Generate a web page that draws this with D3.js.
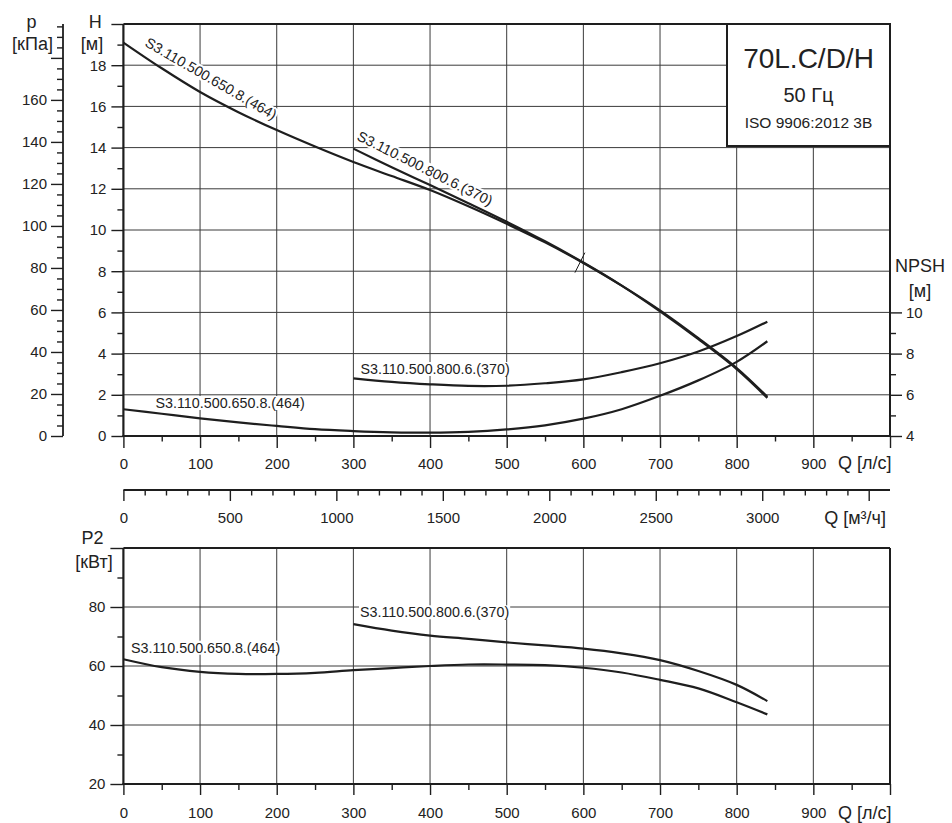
<!DOCTYPE html>
<html><head><meta charset="utf-8">
<script src="https://cdn.jsdelivr.net/npm/d3@7"></script>
<style>
body{margin:0;background:#fff}
svg{display:block}
text{font-family:"Liberation Sans",Arial,Helvetica,sans-serif;fill:#222}
</style>
</head><body>
<svg id="c" width="952" height="823"></svg>
<script>
// ---------- DATA ----------
// Head curves H [m] vs Q [l/s]
const qA = [0,50,100,150,200,250,300,350,400,450,500,550,600,650,700,750,800,840];          // S3.110.500.650.8.(464)
const headA = [19.1,17.85,16.7,15.72,14.85,14.05,13.3,12.62,11.94,11.15,10.3,9.4,8.4,7.3,6.1,4.75,3.3,1.9];
const npshA = [5.30,5.08,4.86,4.66,4.49,4.33,4.24,4.18,4.16,4.2,4.32,4.52,4.84,5.3,5.95,6.7,7.6,8.6];
const powerA = [62.3,59.6,58.0,57.3,57.3,57.7,58.6,59.3,60.0,60.5,60.5,60.3,59.4,57.8,55.3,52.4,47.7,43.6];

const qB = [300,350,400,450,500,550,600,650,700,750,800,840];                                 // S3.110.500.800.6.(370)
const headB = [13.95,13.05,12.18,11.3,10.4,9.45,8.42,7.3,6.05,4.7,3.25,1.85];
const npshB = [6.80,6.63,6.51,6.43,6.44,6.56,6.75,7.1,7.53,8.1,8.85,9.55];
const powerB = [74.2,72.0,70.3,69.2,68.0,67.0,65.9,64.3,62.0,58.3,53.6,48.1];

const nameA = "S3.110.500.650.8.(464)";
const nameB = "S3.110.500.800.6.(370)";

// duty mark on head curve (Q, H pairs)
const dutyMarkQ = [589, 602];
const dutyMarkH = [7.93, 8.9];

// tick values
const qMajor = [0,100,200,300,400,500,600,700,800,900,1000];
const qMinor = [50,150,250,350,450,550,650,750,850,950];
const hMajor = [0,2,4,6,8,10,12,14,16,18,20];
const hMinor = [1,3,5,7,9,11,13,15,17,19];
const kpaMajor = [0,20,40,60,80,100,120,140,160,180];
const kpaMinor = d3.range(5,200,5).filter(v => v % 20 !== 0);
const npshMajor = [4,6,8,10];
const npshMinor = [5,7,9];
const m3hMajor = [0,500,1000,1500,2000,2500,3000,3500];
const m3hMinor = d3.range(100,3600,100).filter(v => v % 500 !== 0);
const p2Major = [20,40,60,80,100];
const p2Minor = [30,50,70,90];

const titleLines = ["70L.C/D/H", "50 Гц", "ISO 9906:2012 3B"];

// ---------- DRAW ----------
const svg = d3.select("#c");
const INK = "#1e1e1e";
const GRID = "#3a3a3a";

const x = d3.scaleLinear().domain([0,1000]).range([123.4,890]);
const xM = d3.scaleLinear().domain([0,3600]).range([123.4,890]);
const yH = d3.scaleLinear().domain([0,20]).range([436,24]);
const yK = d3.scaleLinear().domain([0,20*9.80665]).range([436,24]);
const yN = d3.scaleLinear().domain([4,24]).range([436,24]);
const yP = d3.scaleLinear().domain([20,100]).range([784,548]);

// grid
const gGrid = svg.append("g").attr("stroke",GRID).attr("stroke-width",1);
qMajor.filter(v=>v>0&&v<1000).forEach(q=>{
  gGrid.append("line").attr("x1",x(q)).attr("x2",x(q)).attr("y1",yH(0)).attr("y2",yH(20));
  gGrid.append("line").attr("x1",x(q)).attr("x2",x(q)).attr("y1",yP(20)).attr("y2",yP(100));
});
hMajor.filter(v=>v>0&&v<20).forEach(h=>{
  gGrid.append("line").attr("x1",x(0)).attr("x2",x(1000)).attr("y1",yH(h)).attr("y2",yH(h));
});
p2Major.filter(v=>v>20&&v<100).forEach(p=>{
  gGrid.append("line").attr("x1",x(0)).attr("x2",x(1000)).attr("y1",yP(p)).attr("y2",yP(p));
});

// title box
const box = svg.append("g");
box.append("rect").attr("x",727).attr("y",24).attr("width",163).attr("height",122)
  .attr("fill","#fff").attr("stroke",INK).attr("stroke-width",2);
box.append("text").attr("x",808.5).attr("y",68).attr("text-anchor","middle").attr("font-size",28).text(titleLines[0]);
box.append("text").attr("x",808.5).attr("y",102).attr("text-anchor","middle").attr("font-size",20).text(titleLines[1]);
box.append("text").attr("x",808.5).attr("y",128).attr("text-anchor","middle").attr("font-size",15.5).text(titleLines[2]);

// curve labels with white backgrounds (drawn under the curves)
function label(tx, ty, rot, str){
  const g = svg.append("g").attr("transform",`translate(${tx},${ty}) rotate(${rot})`);
  const t = g.append("text").attr("font-size",14.3).text(str);
  const b = t.node().getBBox();
  g.insert("rect","text").attr("x",b.x-1).attr("y",b.y+1).attr("width",b.width+2).attr("height",b.height-2).attr("fill","#fff");
}
label(144,45.5,30,nameA);
label(356,139.5,26.5,nameB);
label(360.5,374,0,nameB);
label(155.5,408,0,nameA);
label(360,617.3,0,nameB);
label(131,652.7,0,nameA);

// curves
function curve(qs, vs, ys){
  const line = d3.line().x((d,i)=>x(qs[i])).y(d=>ys(d)).curve(d3.curveCatmullRom.alpha(0.5));
  svg.append("path").attr("d",line(vs)).attr("fill","none").attr("stroke",INK)
    .attr("stroke-width",2.2).attr("stroke-linejoin","round");
}
curve(qA, headA, yH);
curve(qB, headB, yH);
curve(qA, npshA, yN);
curve(qB, npshB, yN);
curve(qA, powerA, yP);
curve(qB, powerB, yP);

svg.append("line").attr("x1",x(dutyMarkQ[0])).attr("y1",yH(dutyMarkH[0]))
  .attr("x2",x(dutyMarkQ[1])).attr("y2",yH(dutyMarkH[1])).attr("stroke",INK).attr("stroke-width",1);

// axes helper
function axis(gen, tx, ty, values, size, pad, fmt){
  const g = svg.append("g").attr("transform",`translate(${tx},${ty})`)
    .call(gen.tickValues(values).tickSize(size).tickSizeOuter(0).tickPadding(pad).tickFormat(fmt));
  g.select(".domain").remove();
  g.attr("font-family",null).attr("font-size",15);
  g.selectAll("line").attr("stroke",INK).attr("stroke-width",1.4);
  g.selectAll("text").attr("fill","#222");
  return g;
}
const noLabel = () => "";

// top panel axes
axis(d3.axisLeft(yH),123.4,0,hMajor,12,5,d=>d===20?"":d);
axis(d3.axisLeft(yH),123.4,0,hMinor,6,0,noLabel);
axis(d3.axisLeft(yK),63,0,kpaMajor,12,4,d=>d===180?"":d);
axis(d3.axisLeft(yK),63,0,kpaMinor,6,0,noLabel);
axis(d3.axisRight(yN),890,0,npshMajor,12,4,d=>d);
axis(d3.axisRight(yN),890,0,npshMinor,6,0,noLabel);
axis(d3.axisBottom(x),0,436,qMajor,12,10.5,d=>d===1000?"":d);
axis(d3.axisBottom(x),0,436,qMinor,5.5,0,noLabel);

// m3/h axis
axis(d3.axisBottom(xM),0,490,m3hMajor,11,11.5,d=>d===3500?"":d);
axis(d3.axisBottom(xM),0,490,m3hMinor,5.5,0,noLabel);

// bottom panel axes
axis(d3.axisLeft(yP),123.4,0,p2Major,13,5,d=>d===100?"":d);
axis(d3.axisLeft(yP),123.4,0,p2Minor,6,0,noLabel);
axis(d3.axisBottom(x),0,784,qMajor,11,12,d=>d===1000?"":d);
axis(d3.axisBottom(x),0,784,qMinor,6,0,noLabel);

// frames / axis lines
const fr = svg.append("g").attr("stroke",INK).attr("fill","none");
fr.append("line").attr("x1",x(0)).attr("x2",x(0)).attr("y1",yH(20)).attr("y2",yH(0)).attr("stroke-width",2.2);
fr.append("line").attr("x1",x(0)-1).attr("x2",x(1000)+1).attr("y1",yH(0)).attr("y2",yH(0)).attr("stroke-width",2.2);
fr.append("line").attr("x1",x(0)).attr("x2",x(1000)).attr("y1",yH(20)).attr("y2",yH(20)).attr("stroke-width",2);
fr.append("line").attr("x1",x(1000)).attr("x2",x(1000)).attr("y1",yH(20)).attr("y2",yH(0)).attr("stroke-width",2);
fr.append("line").attr("x1",63).attr("x2",63).attr("y1",yK(20*9.80665)).attr("y2",yK(0)).attr("stroke-width",1.8);
fr.append("line").attr("x1",xM(0)).attr("x2",xM(3600)).attr("y1",490).attr("y2",490).attr("stroke-width",1.8);
fr.append("line").attr("x1",x(0)).attr("x2",x(0)).attr("y1",yP(100)).attr("y2",yP(20)).attr("stroke-width",2.2);
fr.append("line").attr("x1",x(0)-1).attr("x2",x(1000)+1).attr("y1",yP(20)).attr("y2",yP(20)).attr("stroke-width",2.2);
fr.append("line").attr("x1",x(0)).attr("x2",x(1000)).attr("y1",yP(100)).attr("y2",yP(100)).attr("stroke-width",2);
fr.append("line").attr("x1",x(1000)).attr("x2",x(1000)).attr("y1",yP(100)).attr("y2",yP(20)).attr("stroke-width",2);

// axis titles
function t(xp, yp, s, anchor, fs){
  svg.append("text").attr("x",xp).attr("y",yp).attr("text-anchor",anchor).attr("font-size",fs).text(s);
}
t(31.5,28,"p","middle",18);
t(32.5,50,"[кПа]","middle",18);
t(95.3,28.3,"H","middle",18);
t(92,50,"[м]","middle",18);
t(895,272,"NPSH","start",18);
t(920,297,"[м]","middle",18);
t(838,469,"Q [л/с]","start",18);
t(886,523.5,"Q [м³/ч]","end",18);
t(92.5,543.5,"P2","middle",18);
t(94,568,"[кВт]","middle",18);
t(838,819,"Q [л/с]","start",18);
</script>
</body></html>
